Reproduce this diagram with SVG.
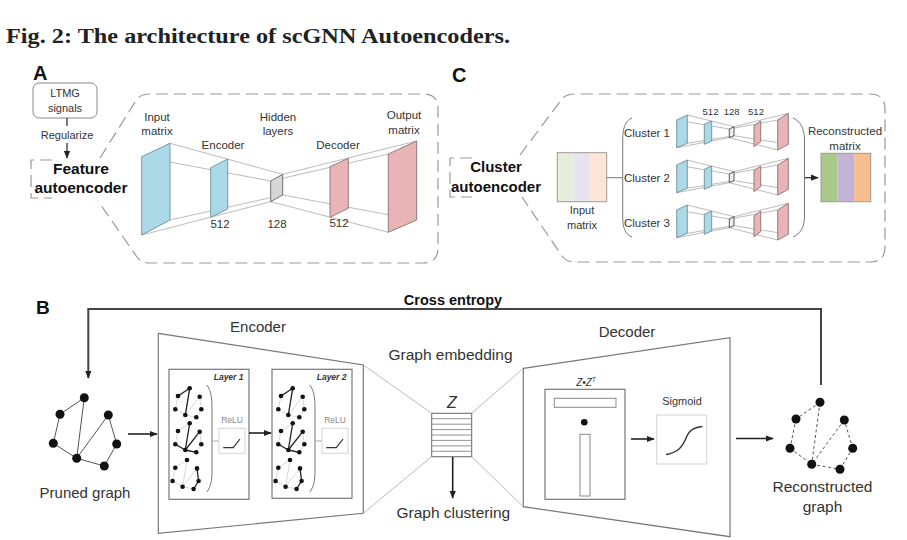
<svg xmlns="http://www.w3.org/2000/svg" width="907" height="540" viewBox="0 0 907 540">
<defs>
<style>
.t{font-family:"Liberation Sans",Arial,sans-serif;fill:#333}
.c{text-anchor:middle}
.b{font-weight:bold}
.dash{fill:none;stroke:#999;stroke-width:1.2;stroke-dasharray:12 6}
.conn{fill:none;stroke:#aaa;stroke-width:0.8}
.blue{fill:#acd9e7;stroke:#6f8f99;stroke-width:0.9}
.pink{fill:#e8b4b6;stroke:#8a7070;stroke-width:0.9}
.grey{fill:#d6d6d6;stroke:#666;stroke-width:0.9}
.arr{fill:none;stroke:#222;stroke-width:1.6;marker-end:url(#ah)}
.box{fill:#fff;stroke:#777;stroke-width:1.2}
.lt{fill:#fff;stroke:#d4d4d4;stroke-width:1}
.e{stroke:#555;stroke-width:1}
.ed{stroke:#555;stroke-width:1;stroke-dasharray:3 2.5}
.n{fill:#111}
.se{stroke:#c4c4c4;stroke-width:0.7}
.sb{stroke:#222;stroke-width:1.3}
</style>
<marker id="ah" viewBox="0 0 10 10" refX="9" refY="5" markerWidth="8" markerHeight="8" markerUnits="userSpaceOnUse" orient="auto"><path d="M0,1 L10,5 L0,9 z" fill="#222"/></marker>
</defs>
<rect width="907" height="540" fill="#fff"/>

<text x="6" y="42.5" font-family="Liberation Serif,serif" font-weight="bold" font-size="20.5" fill="#222" textLength="504" lengthAdjust="spacingAndGlyphs">Fig. 2: The architecture of scGNN Autoencoders.</text>

<!-- Panel labels -->
<text class="t b" x="33" y="80" font-size="20" style="fill:#111">A</text>
<text class="t b" x="452" y="82" font-size="20" style="fill:#111">C</text>
<text class="t b" x="36" y="314" font-size="19" style="fill:#111">B</text>

<!-- ===== Panel A ===== -->
<g id="ltmg">
<rect x="33" y="83" width="64" height="35" rx="6" fill="#fff" stroke="#888" stroke-width="1"/>
<text class="t c" x="65" y="97" font-size="11">LTMG</text>
<text class="t c" x="65" y="112" font-size="11">signals</text>
</g>
<g id="regularize">
<line x1="67" y1="118" x2="67" y2="126" stroke="#222" stroke-width="1.2"/>
<text class="t c" x="67" y="139" font-size="11">Regularize</text>
<line x1="67" y1="143" x2="67" y2="158" class="arr" style="stroke-width:1.2"/>
</g>
<g id="feature-ae">
<path class="dash" d="M52,160 H31 V198 H52"/>
<text class="t c b" x="81" y="174" font-size="15.5" style="fill:#111">Feature</text>
<text class="t c b" x="81" y="193" font-size="15.5" style="fill:#111">autoencoder</text>
</g>
<g id="featureZoomBox">
<path class="dash" d="M100,158 L137,99 Q141,94 150,94 H423 Q438,94 438,109 V248 Q438,263 423,263 H150 Q141,263 137,257 L98,201"/>
</g>
<g id="a-connectors">
<line class="conn" x1="141.7" y1="156.7" x2="270.7" y2="181"/>
<line class="conn" x1="170" y1="143.3" x2="282.7" y2="174.3"/>
<line class="conn" x1="141.7" y1="235" x2="270.7" y2="201.7"/>
<line class="conn" x1="170" y1="220" x2="282.7" y2="195"/>
<line class="conn" x1="388.3" y1="154" x2="270.7" y2="181"/>
<line class="conn" x1="416.7" y1="141" x2="282.7" y2="174.3"/>
<line class="conn" x1="388.3" y1="232.3" x2="270.7" y2="201.7"/>
<line class="conn" x1="416.7" y1="220" x2="282.7" y2="195"/>
</g>
<g id="a-input"><polygon class="blue" points="141.7,156.7 170,143.3 170,220 141.7,235"/>
<text class="t c" x="157" y="121" font-size="11.5">Input</text><text class="t c" x="157" y="135" font-size="11.5">matrix</text></g>
<g id="a-encoder"><polygon class="blue" points="210.7,167.7 227.7,159 227.7,209 210.7,217.3"/>
<text class="t c" x="223" y="149" font-size="11.5">Encoder</text><text class="t c" x="220" y="228" font-size="11.5">512</text></g>
<g id="a-hidden"><polygon class="grey" points="270.7,181 282.7,174.3 282.7,195 270.7,201.7"/>
<text class="t c" x="278" y="121" font-size="11.5">Hidden</text><text class="t c" x="278" y="135" font-size="11.5">layers</text><text class="t c" x="277" y="228" font-size="11.5">128</text></g>
<g id="a-decoder"><polygon class="pink" points="330,166.7 348.3,158.3 348.3,208.3 330,217.3"/>
<text class="t c" x="338" y="149" font-size="11.5">Decoder</text><text class="t c" x="339" y="227" font-size="11.5">512</text></g>
<g id="a-output"><polygon class="pink" points="388.3,154 416.7,141 416.7,220 388.3,232.3"/>
<text class="t c" x="404" y="119" font-size="11.5">Output</text><text class="t c" x="404" y="134" font-size="11.5">matrix</text></g>

<!-- ===== Panel C ===== -->
<g id="cluster-ae">
<path class="dash" d="M472,158 H450 V197 H472"/>
<text class="t c b" x="496" y="172" font-size="15" style="fill:#111">Cluster</text>
<text class="t c b" x="496" y="192" font-size="15" style="fill:#111">autoencoder</text>
</g>
<g id="clusterZoomBox">
<path class="dash" d="M520,155 L562,99 Q566,94 575,94 H870 Q885,94 885,109 V247 Q885,262 870,262 H575 Q566,262 562,256 L522,197"/>
</g>
<g id="c-input">
<rect x="557.3" y="152.7" width="16.5" height="49" fill="#e6eedb"/>
<rect x="573.8" y="152.7" width="16.5" height="49" fill="#e8e4ef"/>
<rect x="590.3" y="152.7" width="16.4" height="49" fill="#fde6d8"/>
<rect x="557.3" y="152.7" width="49.4" height="49" fill="none" stroke="#a09a90" stroke-width="1"/>
<text class="t c" x="582" y="214" font-size="11">Input</text>
<text class="t c" x="582" y="229" font-size="11">matrix</text>
</g>
<g id="c-braces" fill="none" stroke="#777" stroke-width="1">
<line x1="606.7" y1="177.7" x2="622.7" y2="177.7"/>
<path d="M632,118 C625,121 622.7,128 622.7,140 V216 C622.7,228 625,234 632,237"/>
<path d="M793,118 C800,121 804.5,128 804.5,140 V216 C804.5,228 800,234 793,237"/>
</g>
<text class="t c" x="710.5" y="114.5" font-size="9.5">512</text>
<text class="t c" x="731.7" y="114.5" font-size="9.5">128</text>
<text class="t c" x="756" y="114.5" font-size="9.5">512</text>
<g id="c-ae1">
<g class="conn">
<line x1="676.7" y1="120" x2="729.3" y2="129"/><line x1="687.3" y1="115" x2="734" y2="126.7"/>
<line x1="676.7" y1="147.7" x2="729.3" y2="137.7"/><line x1="687.3" y1="143.3" x2="734" y2="135.7"/>
<line x1="777.7" y1="120" x2="729.3" y2="129"/><line x1="788.3" y1="113.3" x2="734" y2="126.7"/>
<line x1="777.7" y1="150" x2="729.3" y2="137.7"/><line x1="788.3" y1="144.3" x2="734" y2="135.7"/>
</g>
<polygon class="blue" points="676.7,120 687.3,115 687.3,143.3 676.7,147.7"/>
<polygon class="blue" points="704.3,124.3 711.7,121 711.7,141 704.3,144.3"/>
<polygon class="grey" style="fill:#eee;stroke:#444" points="729.3,129 734,126.7 734,135.7 729.3,137.7"/>
<polygon class="pink" points="754,125.7 760.7,121 760.7,141.7 754,146.7"/>
<polygon class="pink" points="777.7,120 788.3,113.3 788.3,144.3 777.7,150"/>
<text class="t c" x="647" y="137" font-size="11.5">Cluster 1</text>
</g>
<g id="c-ae2" transform="translate(0,45)">
<g class="conn">
<line x1="676.7" y1="120" x2="729.3" y2="129"/><line x1="687.3" y1="115" x2="734" y2="126.7"/>
<line x1="676.7" y1="147.7" x2="729.3" y2="137.7"/><line x1="687.3" y1="143.3" x2="734" y2="135.7"/>
<line x1="777.7" y1="120" x2="729.3" y2="129"/><line x1="788.3" y1="113.3" x2="734" y2="126.7"/>
<line x1="777.7" y1="150" x2="729.3" y2="137.7"/><line x1="788.3" y1="144.3" x2="734" y2="135.7"/>
</g>
<polygon class="blue" points="676.7,120 687.3,115 687.3,143.3 676.7,147.7"/>
<polygon class="blue" points="704.3,124.3 711.7,121 711.7,141 704.3,144.3"/>
<polygon class="grey" style="fill:#eee;stroke:#444" points="729.3,129 734,126.7 734,135.7 729.3,137.7"/>
<polygon class="pink" points="754,125.7 760.7,121 760.7,141.7 754,146.7"/>
<polygon class="pink" points="777.7,120 788.3,113.3 788.3,144.3 777.7,150"/>
<text class="t c" x="647" y="137" font-size="11.5">Cluster 2</text>
</g>
<g id="c-ae3" transform="translate(0,90)">
<g class="conn">
<line x1="676.7" y1="120" x2="729.3" y2="129"/><line x1="687.3" y1="115" x2="734" y2="126.7"/>
<line x1="676.7" y1="147.7" x2="729.3" y2="137.7"/><line x1="687.3" y1="143.3" x2="734" y2="135.7"/>
<line x1="777.7" y1="120" x2="729.3" y2="129"/><line x1="788.3" y1="113.3" x2="734" y2="126.7"/>
<line x1="777.7" y1="150" x2="729.3" y2="137.7"/><line x1="788.3" y1="144.3" x2="734" y2="135.7"/>
</g>
<polygon class="blue" points="676.7,120 687.3,115 687.3,143.3 676.7,147.7"/>
<polygon class="blue" points="704.3,124.3 711.7,121 711.7,141 704.3,144.3"/>
<polygon class="grey" style="fill:#eee;stroke:#444" points="729.3,129 734,126.7 734,135.7 729.3,137.7"/>
<polygon class="pink" points="754,125.7 760.7,121 760.7,141.7 754,146.7"/>
<polygon class="pink" points="777.7,120 788.3,113.3 788.3,144.3 777.7,150"/>
<text class="t c" x="647" y="137" font-size="11.5">Cluster 3</text>
</g>
<line class="arr" x1="805" y1="177.7" x2="818" y2="177.7" style="stroke-width:1.2"/>
<g id="c-recon">
<rect x="821" y="153.3" width="16.6" height="48.4" fill="#a9c98b"/>
<rect x="837.6" y="153.3" width="16.6" height="48.4" fill="#c3b3d7"/>
<rect x="854.2" y="153.3" width="16.5" height="48.4" fill="#f7bf8f"/>
<rect x="821" y="153.3" width="49.7" height="48.4" fill="none" stroke="#999" stroke-width="1"/>
<text class="t c" x="845" y="135" font-size="11.5">Reconstructed</text>
<text class="t c" x="845" y="150" font-size="11.5">matrix</text>
</g>

<!-- ===== Panel B ===== -->
<text class="t c b" x="453" y="305" font-size="14.5" style="fill:#111">Cross entropy</text>

<g id="pruned-graph">
<g class="e">
<line x1="84.3" y1="397.7" x2="60" y2="414.3"/>
<line x1="60" y1="414.3" x2="53.3" y2="443.3"/>
<line x1="53.3" y1="443.3" x2="76.7" y2="458.3"/>
<line x1="76.7" y1="458.3" x2="104.3" y2="466"/>
<line x1="104.3" y1="466" x2="116.7" y2="444"/>
<line x1="116.7" y1="444" x2="108.3" y2="415"/>
<line x1="108.3" y1="415" x2="76.7" y2="458.3"/>
<line x1="84.3" y1="397.7" x2="76.7" y2="458.3"/>
</g>
<g class="n">
<circle cx="84.3" cy="397.7" r="4.5"/><circle cx="60" cy="414.3" r="4.5"/><circle cx="108.3" cy="415" r="4.5"/>
<circle cx="53.3" cy="443.3" r="4.5"/><circle cx="116.7" cy="444" r="4.5"/><circle cx="76.7" cy="458.3" r="4.5"/><circle cx="104.3" cy="466" r="4.5"/>
</g>
<text class="t c" x="85" y="498" font-size="15">Pruned graph</text>
</g>

<g id="encoder">
<polygon points="158.3,333.3 363.3,365 363.3,513.3 158.3,533.3" fill="#fff" stroke="#777" stroke-width="1.2"/>
<text class="t c" x="258" y="332" font-size="15">Encoder</text>
</g>

<g id="layer1">
<rect class="box" x="169" y="369.3" width="80" height="130"/>
<text class="t b" x="243.5" y="379.5" font-size="8.5" font-style="italic" text-anchor="end">Layer 1</text>
<path d="M206.7,385 C211,390 212,398 212,408 V470 C212,480 211,487 206.7,492" fill="none" stroke="#777" stroke-width="1"/>
<line x1="212" y1="441" x2="219" y2="441" stroke="#999" stroke-width="0.8"/>
<rect class="lt" x="219" y="428.3" width="26" height="25"/>
<text class="t c" x="232" y="422.5" font-size="8.5" style="fill:#888">ReLU</text>
<path d="M223.3,447.7 H233.3 L240,439" fill="none" stroke="#333" stroke-width="1.2"/>
<g transform="translate(189.7,388.3)">
<g class="se"><line x1="0" y1="0" x2="-11.7" y2="7.7"/><line x1="-11.7" y1="7.7" x2="-14.4" y2="21"/><line x1="-14.4" y1="21" x2="-4.4" y2="26.7"/><line x1="-4.4" y1="26.7" x2="6.6" y2="29"/><line x1="6.6" y1="29" x2="11.6" y2="21"/><line x1="11.6" y1="21" x2="10" y2="8.4"/><line x1="10" y1="8.4" x2="-4.4" y2="26.7"/><line x1="0" y1="0" x2="-4.4" y2="26.7"/></g>
<g class="sb"><line x1="0" y1="0" x2="-11.7" y2="7.7"/><line x1="0" y1="0" x2="-4.4" y2="26.7"/></g>
<g class="n"><circle r="2.3"/><circle cx="-11.7" cy="7.7" r="2.3"/><circle cx="10" cy="8.4" r="2.3"/><circle cx="-14.4" cy="21" r="2.3"/><circle cx="11.6" cy="21" r="2.3"/><circle cx="-4.4" cy="26.7" r="2.3"/><circle cx="6.6" cy="29" r="2.3"/></g>
</g>
<g transform="translate(189.7,423.3)">
<g class="se"><line x1="0" y1="0" x2="-11.7" y2="7.7"/><line x1="-11.7" y1="7.7" x2="-14.4" y2="21"/><line x1="-14.4" y1="21" x2="-4.4" y2="26.7"/><line x1="-4.4" y1="26.7" x2="6.6" y2="29"/><line x1="6.6" y1="29" x2="11.6" y2="21"/><line x1="11.6" y1="21" x2="10" y2="8.4"/></g>
<g class="sb"><line x1="0" y1="0" x2="-4.4" y2="26.7"/><line x1="10" y1="8.4" x2="-4.4" y2="26.7"/><line x1="-14.4" y1="21" x2="-4.4" y2="26.7"/><line x1="6.6" y1="29" x2="-4.4" y2="26.7"/></g>
<g class="n"><circle r="2.3"/><circle cx="-11.7" cy="7.7" r="2.3"/><circle cx="10" cy="8.4" r="2.3"/><circle cx="-14.4" cy="21" r="2.3"/><circle cx="11.6" cy="21" r="2.3"/><circle cx="-4.4" cy="26.7" r="2.3"/><circle cx="6.6" cy="29" r="2.3"/></g>
</g>
<g transform="translate(187,460)">
<g class="se"><line x1="0" y1="0" x2="-11.7" y2="7.7"/><line x1="-11.7" y1="7.7" x2="-14.4" y2="21"/><line x1="-14.4" y1="21" x2="-4.4" y2="26.7"/><line x1="-4.4" y1="26.7" x2="6.6" y2="29"/><line x1="10" y1="8.4" x2="-4.4" y2="26.7"/><line x1="0" y1="0" x2="-4.4" y2="26.7"/></g>
<g class="sb"><line x1="10" y1="8.4" x2="11.6" y2="21"/><line x1="11.6" y1="21" x2="6.6" y2="29"/></g>
<g class="n"><circle r="2.3"/><circle cx="-11.7" cy="7.7" r="2.3"/><circle cx="10" cy="8.4" r="2.3"/><circle cx="-14.4" cy="21" r="2.3"/><circle cx="11.6" cy="21" r="2.3"/><circle cx="-4.4" cy="26.7" r="2.3"/><circle cx="6.6" cy="29" r="2.3"/></g>
</g>
</g>

<g id="layer2" transform="translate(103,0)">
<rect class="box" x="169" y="369.3" width="80" height="129"/>
<text class="t b" x="243.5" y="379.5" font-size="8.5" font-style="italic" text-anchor="end">Layer 2</text>
<path d="M206.7,385 C211,390 212,398 212,408 V470 C212,480 211,487 206.7,492" fill="none" stroke="#777" stroke-width="1"/>
<line x1="212" y1="441" x2="219" y2="441" stroke="#999" stroke-width="0.8"/>
<rect class="lt" x="219" y="428.3" width="26" height="25"/>
<text class="t c" x="232" y="422.5" font-size="8.5" style="fill:#888">ReLU</text>
<path d="M223.3,447.7 H233.3 L240,439" fill="none" stroke="#333" stroke-width="1.2"/>
<g transform="translate(189.7,388.3)">
<g class="se"><line x1="0" y1="0" x2="-11.7" y2="7.7"/><line x1="-11.7" y1="7.7" x2="-14.4" y2="21"/><line x1="-14.4" y1="21" x2="-4.4" y2="26.7"/><line x1="-4.4" y1="26.7" x2="6.6" y2="29"/><line x1="6.6" y1="29" x2="11.6" y2="21"/><line x1="11.6" y1="21" x2="10" y2="8.4"/><line x1="10" y1="8.4" x2="-4.4" y2="26.7"/><line x1="0" y1="0" x2="-4.4" y2="26.7"/></g>
<g class="sb"><line x1="0" y1="0" x2="-11.7" y2="7.7"/><line x1="0" y1="0" x2="-4.4" y2="26.7"/></g>
<g class="n"><circle r="2.3"/><circle cx="-11.7" cy="7.7" r="2.3"/><circle cx="10" cy="8.4" r="2.3"/><circle cx="-14.4" cy="21" r="2.3"/><circle cx="11.6" cy="21" r="2.3"/><circle cx="-4.4" cy="26.7" r="2.3"/><circle cx="6.6" cy="29" r="2.3"/></g>
</g>
<g transform="translate(189.7,423.3)">
<g class="se"><line x1="0" y1="0" x2="-11.7" y2="7.7"/><line x1="-11.7" y1="7.7" x2="-14.4" y2="21"/><line x1="-14.4" y1="21" x2="-4.4" y2="26.7"/><line x1="-4.4" y1="26.7" x2="6.6" y2="29"/><line x1="6.6" y1="29" x2="11.6" y2="21"/><line x1="11.6" y1="21" x2="10" y2="8.4"/></g>
<g class="sb"><line x1="0" y1="0" x2="-4.4" y2="26.7"/><line x1="10" y1="8.4" x2="-4.4" y2="26.7"/><line x1="-14.4" y1="21" x2="-4.4" y2="26.7"/><line x1="6.6" y1="29" x2="-4.4" y2="26.7"/></g>
<g class="n"><circle r="2.3"/><circle cx="-11.7" cy="7.7" r="2.3"/><circle cx="10" cy="8.4" r="2.3"/><circle cx="-14.4" cy="21" r="2.3"/><circle cx="11.6" cy="21" r="2.3"/><circle cx="-4.4" cy="26.7" r="2.3"/><circle cx="6.6" cy="29" r="2.3"/></g>
</g>
<g transform="translate(187,460)">
<g class="se"><line x1="0" y1="0" x2="-11.7" y2="7.7"/><line x1="-11.7" y1="7.7" x2="-14.4" y2="21"/><line x1="-14.4" y1="21" x2="-4.4" y2="26.7"/><line x1="-4.4" y1="26.7" x2="6.6" y2="29"/><line x1="10" y1="8.4" x2="-4.4" y2="26.7"/><line x1="0" y1="0" x2="-4.4" y2="26.7"/></g>
<g class="sb"><line x1="10" y1="8.4" x2="11.6" y2="21"/><line x1="11.6" y1="21" x2="6.6" y2="29"/></g>
<g class="n"><circle r="2.3"/><circle cx="-11.7" cy="7.7" r="2.3"/><circle cx="10" cy="8.4" r="2.3"/><circle cx="-14.4" cy="21" r="2.3"/><circle cx="11.6" cy="21" r="2.3"/><circle cx="-4.4" cy="26.7" r="2.3"/><circle cx="6.6" cy="29" r="2.3"/></g>
</g>
</g>

<g id="embedding">
<text class="t c" x="450.5" y="360" font-size="15.5">Graph embedding</text>
<text class="t c" x="452" y="408" font-size="16" font-style="italic">Z</text>
<rect x="431.7" y="413.3" width="40" height="43.4" fill="#fff" stroke="#666" stroke-width="1"/>
<g stroke="#777" stroke-width="0.8">
<line x1="431.7" y1="418.7" x2="471.7" y2="418.7"/><line x1="431.7" y1="424.2" x2="471.7" y2="424.2"/>
<line x1="431.7" y1="429.6" x2="471.7" y2="429.6"/><line x1="431.7" y1="435" x2="471.7" y2="435"/>
<line x1="431.7" y1="440.4" x2="471.7" y2="440.4"/><line x1="431.7" y1="445.9" x2="471.7" y2="445.9"/>
<line x1="431.7" y1="451.3" x2="471.7" y2="451.3"/>
</g>
<text class="t c" x="453.3" y="517.5" font-size="15.5">Graph clustering</text>
</g>

<g id="decoder">
<polygon points="523.3,368.3 730,337.7 730,536.7 523.3,506.7" fill="#fff" stroke="#777" stroke-width="1.2"/>
<text class="t c" x="627" y="337" font-size="15">Decoder</text>
<rect class="box" x="545" y="389.3" width="80" height="110"/>
<text class="t c" x="586" y="386" font-size="10" font-style="italic">Z•Z<tspan font-size="6.5" dy="-4">T</tspan></text>
<rect x="554.3" y="398.3" width="61.7" height="9" fill="#fff" stroke="#888" stroke-width="1"/>
<circle cx="584.3" cy="422.3" r="3.3" fill="#111"/>
<rect x="580" y="434.3" width="10" height="61.7" fill="#fff" stroke="#888" stroke-width="1"/>
</g>

<g id="sigmoid">
<text class="t c" x="682" y="404.5" font-size="11">Sigmoid</text>
<rect class="lt" x="656.7" y="415" width="50" height="49"/>
<path d="M666,454.5 C678,452 682,448 686.5,437 C690,429 695,427.5 702.3,426.5" fill="none" stroke="#333" stroke-width="1.4"/>
</g>

<g id="reconstructed-graph">
<g class="ed">
<line x1="820" y1="402.3" x2="796" y2="419"/>
<line x1="796" y1="419" x2="790" y2="448.3"/>
<line x1="790" y1="448.3" x2="811.7" y2="464.3"/>
<line x1="811.7" y1="464.3" x2="840" y2="469.3"/>
<line x1="840" y1="469.3" x2="852.7" y2="448.3"/>
<line x1="852.7" y1="448.3" x2="844.3" y2="420"/>
<line x1="844.3" y1="420" x2="811.7" y2="464.3"/>
<line x1="820" y1="402.3" x2="811.7" y2="464.3"/>
</g>
<g class="n">
<circle cx="820" cy="402.3" r="4.5"/><circle cx="796" cy="419" r="4.5"/><circle cx="844.3" cy="420" r="4.5"/>
<circle cx="790" cy="448.3" r="4.5"/><circle cx="852.7" cy="448.3" r="4.5"/><circle cx="811.7" cy="464.3" r="4.5"/><circle cx="840" cy="469.3" r="4.5"/>
</g>
<text class="t c" x="822.5" y="492" font-size="15.5">Reconstructed</text>
<text class="t c" x="822.5" y="512" font-size="15.5">graph</text>
</g>

<g id="connectors">
<path d="M821,385 V309 H88.3 V378" fill="none" stroke="#444" stroke-width="2" marker-end="url(#ah)"/>
<line class="arr" x1="128" y1="434" x2="157" y2="434"/>
<line class="arr" x1="249" y1="433" x2="271" y2="433"/>
<line class="arr" x1="452.7" y1="457" x2="452.7" y2="498"/>
<line class="arr" x1="631" y1="439" x2="654" y2="439"/>
<line class="arr" x1="736" y1="438.5" x2="773" y2="438.5"/>
<line class="conn" x1="363.3" y1="365" x2="431.7" y2="413.3"/>
<line class="conn" x1="363.3" y1="513.3" x2="431.7" y2="456.7"/>
<line class="conn" x1="471.7" y1="413.3" x2="523.3" y2="368.3"/>
<line class="conn" x1="471.7" y1="456.7" x2="523.3" y2="506.7"/>
</g>
</svg>
